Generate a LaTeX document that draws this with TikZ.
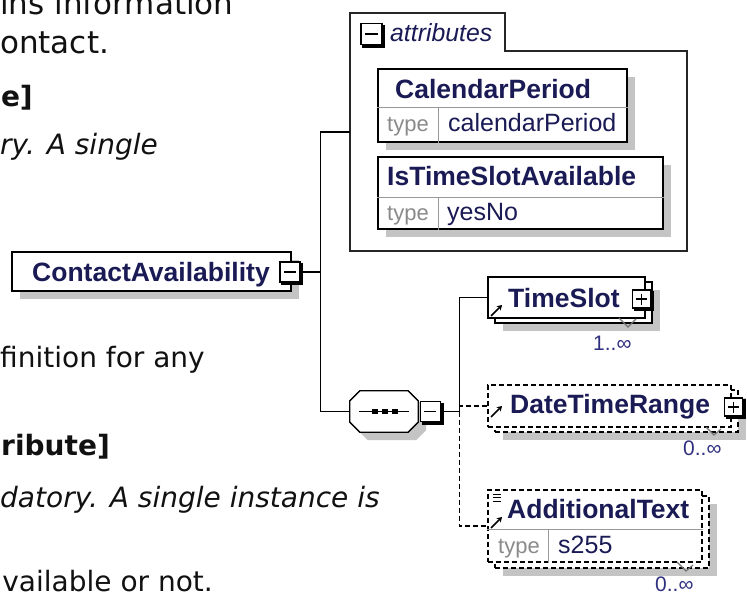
\documentclass[tikz,border=0pt]{standalone}
\usepackage{fontspec}
\setmainfont{Liberation Sans}
\newfontfamily\docfont{DejaVu Sans}
\usetikzlibrary{shadows,arrows.meta,calc}
\definecolor{namecol}{HTML}{1A1A55}
\definecolor{typecol}{HTML}{8A8A8A}
\definecolor{occcol}{HTML}{303080}
\definecolor{shadecol}{HTML}{C4C4C4}
\definecolor{doccol}{HTML}{111111}
\definecolor{divcol}{HTML}{999999}
\begin{document}
\begin{tikzpicture}[x=1pt,y=-1pt,
  conn/.style={line width=1.6pt, draw=black},
  optconn/.style={conn, dash pattern=on 5pt off 3pt},
  sh/.style={drop shadow={shadow xshift=8pt, shadow yshift=-8pt, fill=shadecol, draw=none, opacity=1}},
  box/.style={rectangle, draw=black, fill=white, line width=1.7pt, inner sep=0pt},
  shbox/.style={box, sh},
  optbox/.style={box, dash pattern=on 5pt off 3pt},
  shopt/.style={optbox, sh},
  tog/.style={rectangle, draw=black, fill=white, line width=1.3pt, inner sep=0pt},
  tminus/.style={tog, path picture={\draw[line width=1.4pt] ([xshift=4pt]path picture bounding box.west) -- ([xshift=-4pt]path picture bounding box.east);}},
  tplus/.style={tog, path picture={\draw[line width=1.4pt] ([xshift=3.5pt]path picture bounding box.west) -- ([xshift=-3.5pt]path picture bounding box.east) ([yshift=-3.5pt]path picture bounding box.north) -- ([yshift=3.5pt]path picture bounding box.south);}},
  doctext/.style={font=\docfont\fontsize{28}{34}\selectfont, text=doccol, inner sep=0pt},
  doctop/.style={font=\docfont\fontsize{31}{36}\selectfont, text=doccol, inner sep=0pt},
  namet/.style={font=\bfseries\fontsize{26.5}{30}\selectfont, text=namecol, inner sep=0pt, anchor=base west},
  valt/.style={font=\fontsize{25}{30}\selectfont, text=namecol, inner sep=0pt, anchor=base west},
  typet/.style={font=\fontsize{22}{26}\selectfont, text=typecol, inner sep=0pt, anchor=base west},
  attrt/.style={font=\itshape\fontsize{24.8}{30}\selectfont, text=namecol, inner sep=0pt, anchor=base west},
  occt/.style={font=\fontsize{21}{24}\selectfont, text=occcol, inner sep=0pt, anchor=base west},
  divline/.style={draw=divcol, line width=1pt},
  occmark/.style={draw=black!55, line width=1.1pt},
  refarrow/.style={line width=1.7pt, -{Stealth[length=5pt,width=6pt]}},
]
\useasboundingbox (0,0) rectangle (747,596);
\clip (0,0) rectangle (747,596);

% ---- document text (cropped at left) ----
\node[doctop, anchor=base west] (d1) at (0,15) {ins information};
\node[doctop, anchor=base west] (d2) at (0,54) {ontact.};
\node[doctext, anchor=base east] (d3) at (33,107) {\bfseries e]};
\node[doctext, anchor=base east] (d4) at (158,155) {\itshape ry. A single};
\node[doctext, anchor=base east] (d5) at (205,367) {finition for any};
\node[doctext, anchor=base east] (d6) at (110,455) {\bfseries ribute]};
\node[doctext, anchor=base west] (d7) at (0,507) {\itshape datory. A single instance is};
\node[doctext, anchor=base east] (d8) at (213,591) {vailable or not.};

% ---- ContactAvailability ----
\node[shbox, minimum width=279pt, minimum height=39pt] (ca) at (151.5,271.5) {};
\node[namet] (catext) at (32,281) {ContactAvailability};
\node[tminus, minimum size=20pt] (caminus) at (290,272) {};

% ---- attributes group ----
\node[inner sep=0pt, minimum width=337pt, minimum height=238pt] (attrgroup) at (518.5,132) {};
\draw[line width=1.6pt, draw=black!85, fill=white]
  (attrgroup.north west) -- ([xshift=155pt]attrgroup.north west)
  -- ([xshift=155pt,yshift=-38pt]attrgroup.north west)
  -- ([yshift=-38pt]attrgroup.north east) -- (attrgroup.south east)
  -- (attrgroup.south west) -- cycle;
\node[tminus, minimum size=21pt] (atminus) at (371.5,34) {};
\node[attrt] (attrtext) at (390,42) {attributes};

% CalendarPeriod
\node[shbox, minimum width=249pt, minimum height=73pt] (cp) at (502.5,105.5) {};
\draw[divline] (cp.west |- 0,108) -- (cp.east |- 0,108);
\draw[divline] (438,108) -- (cp.south -| 438,0);
\node[namet] (cpname) at (395,99) {CalendarPeriod};
\node[typet] (cptype) at (387,132) {type};
\node[valt] (cpval) at (448,132) {calendarPeriod};

% IsTimeSlotAvailable
\node[shbox, minimum width=285pt, minimum height=72pt] (its) at (520.5,193) {};
\draw[divline] (its.west |- 0,198) -- (its.east |- 0,198);
\draw[divline] (438,198) -- (its.south -| 438,0);
\node[namet] (itsname) at (387,186) {IsTimeSlotAvailable};
\node[typet] (itstype) at (387,221) {type};
\node[valt] (itsval) at (447,221) {yesNo};

% ---- sequence compositor ----
\node[inner sep=0pt, minimum width=68pt, minimum height=41pt] (seq) at (384,411.5) {};
\draw[line width=1.3pt, fill=white, sh]
  ([xshift=10pt]seq.north west) -- ([xshift=-10pt]seq.north east)
  -- ([yshift=-10pt]seq.north east) -- ([yshift=10pt]seq.south east)
  -- ([xshift=-10pt]seq.south east) -- ([xshift=10pt]seq.south west)
  -- ([yshift=10pt]seq.south west) -- ([yshift=-10pt]seq.north west) -- cycle;
\draw[line width=1.2pt] ([xshift=-25pt]seq.center) -- ([xshift=25pt]seq.center);
\foreach \dx in {-9,1,11}
  \fill ([xshift=\dx pt]seq.center) +(-2.7,-2.7) rectangle +(2.7,2.7);
\node[tminus, minimum size=20pt, anchor=west] (seqminus) at ([xshift=1.5pt]seq.east) {};

% ---- TimeSlot ----
\node[shbox, minimum width=157pt, minimum height=41pt] (tsb) at (573.5,302.5) {};
\node[box, minimum width=157pt, minimum height=41pt] (ts) at (566.5,297.5) {};
\node[namet] (tsname) at (508,307) {TimeSlot};
\node[tplus, minimum size=18pt] (tsplus) at (641.5,299) {};
\draw[occmark] (619,318) -- (628,327) -- (636,319);
\node[occt] (tsocc) at (593,350) {1..∞};
\draw[refarrow] (491,316) -- (502,305);

% ---- DateTimeRange ----
\node[shopt, minimum width=243pt, minimum height=42pt] (dtrb) at (616.5,411) {};
\node[optbox, minimum width=243pt, minimum height=42pt] (dtr) at (609.5,406) {};
\node[namet] (dtrname) at (510,413) {DateTimeRange};
\node[tplus, minimum size=18pt] (dtplus) at (733.5,407) {};
\draw[occmark] (706,427) -- (714,435) -- (721,429);
\node[occt] (dtrocc) at (683,455) {0..∞};
\draw[refarrow] (491,417) -- (502,406);

% ---- AdditionalText ----
\node[shopt, minimum width=214pt, minimum height=72pt] (addtextb) at (602,532) {};
\node[optbox, minimum width=214pt, minimum height=72pt] (addtext) at (595,526) {};
\draw[divline] (addtext.west |- 0,529) -- (addtext.east |- 0,529);
\draw[divline] (548,529) -- (addtext.south -| 548,0);
\node[namet] (addname) at (507,518) {AdditionalText};
\node[typet] (addtype) at (498,553) {type};
\node[valt] (addval) at (558,553) {s255};
\draw[occmark] (677,562) -- (686,571) -- (693,565);
\node[occt] (addocc) at (655,591) {0..∞};
\draw[refarrow] (491,528) -- (502,517);
\foreach \yy in {494,497.5,501}
  \draw[line width=0.9pt] (493,\yy) -- (501,\yy);

% ---- connectors ----
\draw[conn] (caminus.east) -- ++(20,0) coordinate (cajoin);
\draw[conn] (attrgroup.west) -| (cajoin) |- (seq.west);
\draw[conn] (seqminus.east) -- ++(18.5,0) coordinate (seqjoin);
\draw[conn] (ts.west) -| (seqjoin);
\draw[optconn] (dtr.west) -- (dtr.west -| seqjoin);
\draw[optconn] (seqjoin) |- (addtext.west);

% 3D edges of the toggle boxes
\foreach \t in {caminus,atminus,seqminus,tsplus,dtplus}
  \draw[line width=2.4pt] ([xshift=1.3pt,yshift=-2pt]\t.north east) -- ([xshift=1.3pt,yshift=-1.3pt]\t.south east) -- ([xshift=2pt,yshift=-1.3pt]\t.south west);
\end{tikzpicture}
\end{document}
